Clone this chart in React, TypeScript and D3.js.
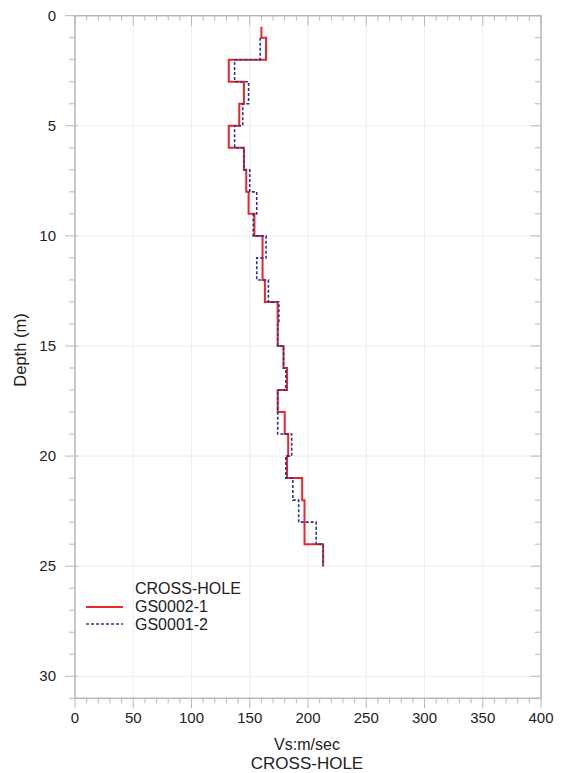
import React, { useEffect, useRef } from 'react';
import * as d3 from 'd3';

// layer tops (m), each layer runs to the next top, the last one to 25 m
const redTops = [0.5, 1, 2, 3, 4, 5, 6, 7, 8, 9, 10, 11, 12, 13, 14, 15, 16, 17, 18, 19, 20, 21, 22, 23, 24];
const redVs = [160, 164, 132, 145, 141, 132, 145, 147, 149, 154, 161, 161, 163, 174, 174, 179, 182, 174, 180, 183, 182, 195, 197, 197, 213];
const blueTops = [1, 2, 3, 4, 5, 6, 7, 8, 9, 10, 11, 12, 13, 14, 15, 16, 17, 18, 19, 20, 21, 22, 23, 24];
const blueVs = [159, 137, 149, 144, 137, 145, 150, 156, 153, 164, 156, 166, 175, 174, 179, 181, 174, 174, 186, 181, 187, 192, 207, 213];
const bottomDepth = 25;

const xTicks = [0, 50, 100, 150, 200, 250, 300, 350, 400];
const yTicks = [0, 5, 10, 15, 20, 25, 30];
const legendNames = ['GS0002-1', 'GS0001-2'];

const W = 562;
const H = 773;
const FONT = 'Liberation Sans, Arial, sans-serif';

function steps(tops: number[], vs: number[]) {
  const pts: [number, number][] = [];
  tops.forEach((t, i) => {
    const b = i < tops.length - 1 ? tops[i + 1] : bottomDepth;
    pts.push([vs[i], t]);
    pts.push([vs[i], b]);
  });
  return pts;
}

export default function App() {
  const ref = useRef<SVGSVGElement>(null);

  useEffect(() => {
    const svg = d3.select(ref.current);
    svg.selectAll('*').remove();

    const left = 75, right = 541, top = 15.7, bottom = 698.3;
    const x = d3.scaleLinear().domain([0, 400]).range([left, right]);
    const y = d3.scaleLinear().domain([0, 31]).range([top, bottom]);

    const frame = '#b8b8b8';

    // grid
    const g = svg.append('g');
    g.selectAll('.vg').data(xTicks.slice(1, -1)).enter().append('line')
      .attr('x1', d => x(d)).attr('x2', d => x(d)).attr('y1', top).attr('y2', bottom)
      .attr('stroke', '#ececec').attr('stroke-width', 1);
    g.selectAll('.hg').data(yTicks.slice(1)).enter().append('line')
      .attr('x1', left).attr('x2', right).attr('y1', d => y(d)).attr('y2', d => y(d))
      .attr('stroke', '#ececec').attr('stroke-width', 1);

    // minor / major ticks
    const xMinor = d3.range(0, 401, 10);
    const yMinor = d3.range(0, 32, 1);
    const tk = svg.append('g').attr('stroke', frame).attr('stroke-width', 1);
    xMinor.forEach(v => {
      const major = v % 50 === 0;
      const len = major ? 10 : 5;
      tk.append('line').attr('x1', x(v)).attr('x2', x(v)).attr('y1', top).attr('y2', top + len);
      tk.append('line').attr('x1', x(v)).attr('x2', x(v)).attr('y1', bottom).attr('y2', bottom + len);
    });
    yMinor.forEach(v => {
      const major = v % 5 === 0;
      const len = major ? 10 : 6;
      tk.append('line').attr('y1', y(v)).attr('y2', y(v)).attr('x1', left - len).attr('x2', left + (major ? 3 : 0));
      tk.append('line').attr('y1', y(v)).attr('y2', y(v)).attr('x1', right).attr('x2', right - len);
    });

    svg.append('rect').attr('x', left).attr('y', top).attr('width', right - left).attr('height', bottom - top)
      .attr('fill', 'none').attr('stroke', frame).attr('stroke-width', 1.5);

    // tick labels
    svg.append('g').selectAll('text').data(xTicks).enter().append('text')
      .attr('x', d => x(d)).attr('y', 723).attr('text-anchor', 'middle')
      .attr('font-family', FONT).attr('font-size', 15).attr('fill', '#222').text(d => d);
    svg.append('g').selectAll('text').data(yTicks).enter().append('text')
      .attr('x', 56).attr('y', d => y(d) + 5).attr('text-anchor', 'end')
      .attr('font-family', FONT).attr('font-size', 15).attr('fill', '#222').text(d => d);

    svg.append('text').attr('x', 307).attr('y', 750).attr('text-anchor', 'middle')
      .attr('font-family', FONT).attr('font-size', 16).attr('fill', '#222').text('Vs:m/sec');
    svg.append('text').attr('x', 307).attr('y', 769).attr('text-anchor', 'middle')
      .attr('font-family', FONT).attr('font-size', 17).attr('fill', '#222').text('CROSS-HOLE');
    svg.append('text').attr('transform', 'translate(26,350) rotate(-90)').attr('text-anchor', 'middle')
      .attr('font-family', FONT).attr('font-size', 16.5).attr('fill', '#222').text('Depth (m)');

    // profiles
    const line = d3.line<[number, number]>().x(d => x(d[0])).y(d => y(d[1]));
    svg.append('path').attr('d', line(steps(redTops, redVs)))
      .attr('fill', 'none').attr('stroke', '#e8262b').attr('stroke-width', 2);
    svg.append('path').attr('d', line(steps(blueTops, blueVs)))
      .attr('fill', 'none').attr('stroke', '#2b338f').attr('stroke-width', 1.6).attr('stroke-dasharray', '3,2');

    // legend
    const lg = svg.append('g').attr('font-family', FONT).attr('font-size', 16).attr('fill', '#222');
    lg.append('text').attr('x', 135).attr('y', 594).text('CROSS-HOLE');
    lg.append('line').attr('x1', 86).attr('x2', 123).attr('y1', 607).attr('y2', 607)
      .attr('stroke', '#e8262b').attr('stroke-width', 2);
    lg.append('text').attr('x', 135).attr('y', 612).text(legendNames[0]);
    lg.append('line').attr('x1', 86).attr('x2', 123).attr('y1', 624).attr('y2', 624)
      .attr('stroke', '#2b338f').attr('stroke-width', 1.6).attr('stroke-dasharray', '3,2');
    lg.append('text').attr('x', 135).attr('y', 630).text(legendNames[1]);
  }, []);

  return (
    <svg ref={ref} width={W} height={H}
      style={{ position: 'absolute', left: 0, top: 0, background: '#fff' }} />
  );
}
